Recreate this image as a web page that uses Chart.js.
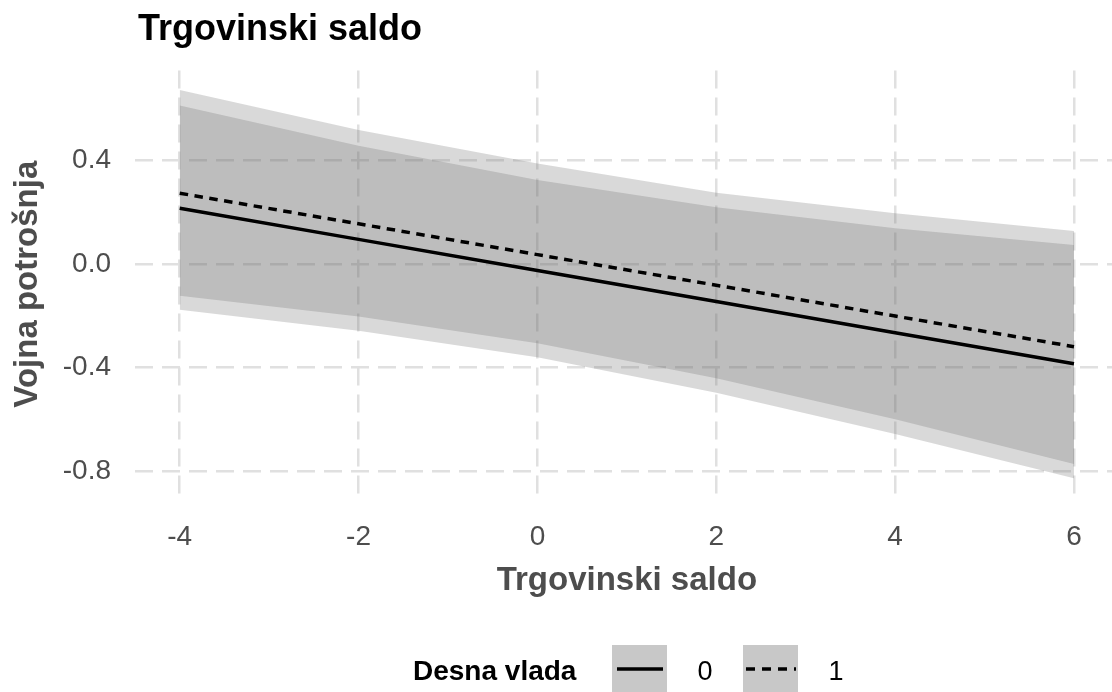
<!DOCTYPE html>
<html>
<head>
<meta charset="utf-8">
<script src="https://cdn.jsdelivr.net/npm/chart.js@4.4.1/dist/chart.umd.min.js"></script>
<style>
  html, body { margin:0; padding:0; background:#fff; overflow:hidden; width:1112px; height:692px; }
  #wrap { position:relative; width:1112px; height:692px; overflow:hidden; }
  #c { position:absolute; left:0; top:0; }
  #title { position:absolute; left:138px; top:10px; font:bold 36px "Liberation Sans", Arial, sans-serif; line-height:36px; color:#000; white-space:nowrap; }
  #legend { position:absolute; left:0; top:630px; font-family:"Liberation Sans", Arial, sans-serif; }
</style>
</head>
<body>
<div id="wrap">
  <canvas id="c" width="1125" height="692"></canvas>
  <div id="title">Trgovinski saldo</div>
  <svg id="legend" width="1112" height="62">
    <text x="413" y="50" font-size="28" font-weight="bold" fill="#000">Desna vlada</text>
    <rect x="612" y="15" width="55" height="55" fill="#c8c8c8"></rect>
    <line x1="617" y1="39" x2="663" y2="39" stroke="#000" stroke-width="3.5"></line>
    <text x="705" y="50" font-size="27" text-anchor="middle" fill="#000">0</text>
    <rect x="743" y="15" width="55" height="55" fill="#c8c8c8"></rect>
    <line x1="746" y1="39" x2="796" y2="39" stroke="#000" stroke-width="3.5" stroke-dasharray="9 7"></line>
    <text x="836" y="50" font-size="27" text-anchor="middle" fill="#000">1</text>
  </svg>
</div>
<script>
// vrijednosti ocitane sa slike (predvidjanja + intervali)
const xVals = [-4, -2, 0, 2, 4, 6];
const fit0  = [0.215, 0.095, -0.025, -0.145, -0.265, -0.385];
const low0  = [-0.177, -0.258, -0.360, -0.497, -0.656, -0.827];
const high0 = [0.611, 0.456, 0.324, 0.219, 0.138, 0.073];
const fit1  = [0.273, 0.155, 0.036, -0.082, -0.201, -0.319];
const low1  = [-0.123, -0.203, -0.306, -0.441, -0.599, -0.772];
const high1 = [0.671, 0.517, 0.388, 0.275, 0.196, 0.127];
const xTicks = [-4, -2, 0, 2, 4, 6];
const yTicks = [-0.8, -0.4, 0, 0.4];

function pts(ys) { return xVals.map((x, i) => ({x: x, y: ys[i]})); }

Chart.defaults.font.family = '"Liberation Sans", Arial, sans-serif';

const ribbon = 'rgba(110,110,110,0.26)';
const gridCol = '#e0e0e0';

function band(data, fill) {
  return { data: pts(data), fill: fill, backgroundColor: ribbon, borderWidth: 0,
           borderColor: 'rgba(0,0,0,0)', pointRadius: 0, order: 1 };
}

const ctx = document.getElementById('c').getContext('2d');
const myChart = new Chart(ctx, {
  type: 'line',
  data: {
    datasets: [
      { data: pts(fit0), borderColor: '#000', borderWidth: 3.5, pointRadius: 0, fill: false, order: 0 },
      { data: pts(fit1), borderColor: '#000', borderWidth: 3.5, borderDash: [8.5, 6.5], pointRadius: 0, fill: false, order: 0 },
      band(high0, '+1'),
      band(low0, false),
      band(high1, '+1'),
      band(low1, false)
    ]
  },
  options: {
    responsive: false,
    animation: false,
    layout: { padding: { left: 0, right: 6.3, top: 70.6, bottom: 82 } },
    plugins: {
      legend: { display: false },
      tooltip: { enabled: false },
      filler: { drawTime: 'beforeDatasetsDraw' }
    },
    scales: {
      x: {
        type: 'linear', min: -4.5, max: 6.5,
        afterBuildTicks: s => { s.ticks = xTicks.map(v => ({value: v})); },
        afterFit: s => { s.height = 112.2; },
        grid: { color: gridCol, lineWidth: 2.5, drawTicks: false },
        border: { display: false, dash: [18, 9] },
        ticks: { autoSkip: false, maxRotation: 0, padding: 25, color: '#4d4d4d',
                 font: { size: 28, lineHeight: 1 }, callback: v => String(v) },
        title: { display: true, text: 'Trgovinski saldo', color: '#4d4d4d',
                 font: { size: 33, weight: 'bold', lineHeight: 1 }, padding: { top: 0, bottom: 12.5 } }
      },
      y: {
        type: 'linear', min: -0.902, max: 0.746,
        afterBuildTicks: s => { s.ticks = yTicks.map(v => ({value: v})); },
        afterFit: s => { s.width = 135; },
        grid: { color: gridCol, lineWidth: 2.5, drawTicks: false },
        border: { display: false, dash: [18, 9] },
        ticks: { autoSkip: false, padding: 24, color: '#4d4d4d',
                 font: { size: 28, lineHeight: 1 }, callback: v => v.toFixed(1) },
        title: { display: true, text: 'Vojna potrošnja', color: '#4d4d4d',
                 font: { size: 33, weight: 'bold', lineHeight: 1 }, padding: { top: 11.5, bottom: 0 } }
      }
    }
  }
});
</script>
</body>
</html>
